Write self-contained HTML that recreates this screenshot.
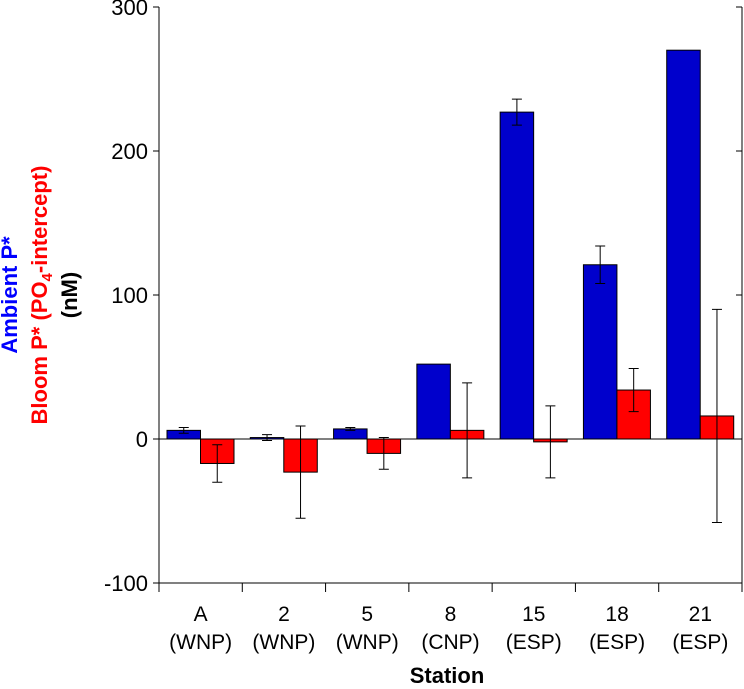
<!DOCTYPE html>
<html><head><meta charset="utf-8"><style>
body{margin:0;background:#fff;}
svg text{font-family:"Liberation Sans",sans-serif;}
</style></head><body>
<svg id="c" width="744" height="684" xmlns="http://www.w3.org/2000/svg">
<g id="ax"></g>
<text x="447" y="683" text-anchor="middle" font-size="22" font-weight="bold">Station</text>
<g transform="translate(17,295) rotate(-90)">
<text x="0" y="0" text-anchor="middle" font-size="22" font-weight="bold" fill="#0000ff">Ambient P*</text>
<text x="0" y="30" text-anchor="middle" font-size="22" font-weight="bold" fill="#ff0000">Bloom P* (PO<tspan font-size="15" dy="5">4</tspan><tspan dy="-5">-intercept)</tspan></text>
<text x="0" y="60" text-anchor="middle" font-size="22" font-weight="bold" fill="#000">(nM)</text>
</g>
</svg>
<script>
const categories=["A","2","5","8","15","18","21"];
const regions=["(WNP)","(WNP)","(WNP)","(CNP)","(ESP)","(ESP)","(ESP)"];
const ambient=[6,1,7,52,227,121,270];
const ambientErr=[2,2,1,0,9,13,0];
const bloom=[-17,-23,-10,6,-2,34,16];
const bloomErr=[13,32,11,33,25,15,74];
const yTicks=[-100,0,100,200,300];
const NS="http://www.w3.org/2000/svg";
const svg=document.getElementById('ax');
const X0=159,X1=742,Y0=583,Y1=7;
const y=v=>Y0+(v+100)/400*(Y1-Y0);
const cw=(X1-X0)/categories.length;
const cx=i=>X0+i*cw;
function mk(t,a){const e=document.createElementNS(NS,t);for(const k in a)e.setAttribute(k,a[k]);svg.appendChild(e);return e;}
categories.forEach((c,i)=>{
  const x=cx(i)+8, bw=33.5;
  let b=mk('rect',{x:x,y:Math.min(y(ambient[i]),y(0)),width:bw,height:Math.abs(y(ambient[i])-y(0)),fill:'#0000cc',stroke:'#000','stroke-width':1});
  
  
  let r=mk('rect',{x:x+bw,y:Math.min(y(bloom[i]),y(0)),width:bw,height:Math.abs(y(bloom[i])-y(0)),fill:'#ff0000',stroke:'#000','stroke-width':1});
  
  
  [[x+bw/2,ambient[i],ambientErr[i]],[x+bw*1.5,bloom[i],bloomErr[i]]].forEach(([ex,v,e])=>{
    if(!e)return;
    const g=mk('path',{d:`M${ex},${y(v+e)}V${y(v-e)}M${ex-5},${y(v+e)}h10M${ex-5},${y(v-e)}h10`,stroke:'#000','stroke-width':1,fill:'none'});
    
    
  });
  const t1=mk('text',{x:cx(i)+cw/2,y:621,'text-anchor':'middle','font-size':21});t1.textContent=c;
  
  
  const t2=mk('text',{x:cx(i)+cw/2,y:649,'text-anchor':'middle','font-size':21});t2.textContent=regions[i];
  
  
});
for(let i=0;i<=categories.length;i++){const t=mk('line',{x1:cx(i),x2:cx(i),y1:Y0,y2:Y0+9,stroke:'#000'});
  
  }
yTicks.forEach(v=>{
  const l=mk('line',{x1:X0-6,x2:X0,y1:y(v),y2:y(v),stroke:'#000'});
  
  
  const r=mk('line',{x1:X1-6,x2:X1,y1:y(v),y2:y(v),stroke:'#000'});
  
  
  const t=mk('text',{x:X0-11,y:y(v)+8,'text-anchor':'end','font-size':22});t.textContent=v;
  
  
});
const z=mk('line',{x1:X0,x2:X1,y1:y(0),y2:y(0),stroke:'#000'});


const a=mk('path',{d:`M${X0},${Y1}V${Y0}H${X1}V${Y1}`,stroke:'#000',fill:'none'});


</script>
</body></html>
